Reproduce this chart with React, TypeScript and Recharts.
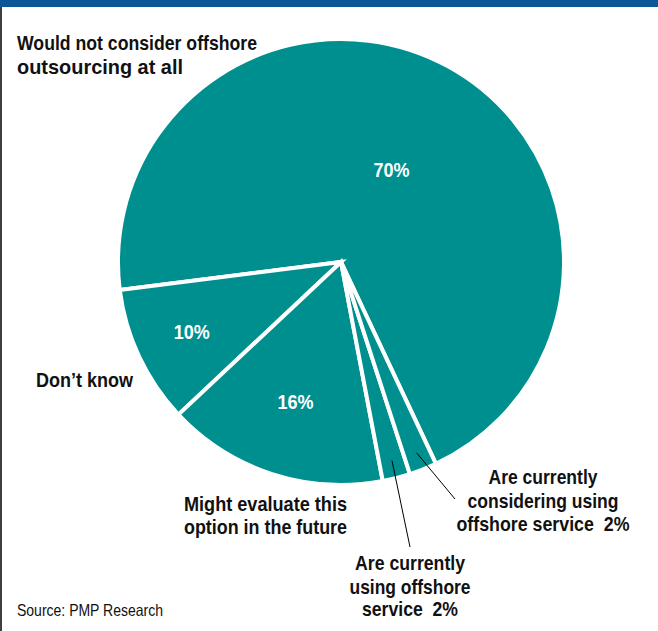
import { Pie, PieChart } from "recharts";

// survey answers, in clockwise order from the top-right of the pie
const categories = [
  "Would not consider offshore outsourcing at all",
  "Don’t know",
  "Might evaluate this option in the future",
  "Are currently using offshore service",
  "Are currently considering using offshore service",
];
const shares = [70, 10, 16, 2, 2];
const valueLabels = ["70%", "10%", "16%", "2%", "2%"];

const data = categories.map((name, i) => ({ name, value: shares[i], text: valueLabels[i] }));

const TEAL = "#008f8f";
// condensed bold look: Arial metrics squeezed to the measured line widths
const FONT = "'Liberation Sans', Arial, sans-serif";
const RAD = Math.PI / 180;

// how far in (fraction of outer radius) the value goes; null = leader line instead
const insideRadius = [0.47, 0.74, 0.66, null, null];
// leader line ends for the thin slices
const leaderEnd: Record<number, [number, number]> = {
  3: [410, 547],
  4: [455, 499],
};

type Line = { t: string; x: number; y: number; w: number; anchor?: "start" | "middle" };

const outsideLines: Line[] = [
  { t: "Would not consider offshore", x: 17, y: 50, w: 240 },
  { t: "outsourcing at all", x: 17, y: 74, w: 166 },
  { t: "Don’t know", x: 36, y: 387, w: 97 },
  { t: "Might evaluate this", x: 184, y: 511, w: 163 },
  { t: "option in the future", x: 184, y: 534, w: 163 },
  { t: "Are currently", x: 543, y: 484, w: 109, anchor: "middle" },
  { t: "considering using", x: 543, y: 508, w: 151, anchor: "middle" },
  { t: "offshore service\u00a0 2%", x: 543, y: 531, w: 173, anchor: "middle" },
  { t: "Are currently", x: 410, y: 570, w: 110, anchor: "middle" },
  { t: "using offshore", x: 410, y: 594, w: 121, anchor: "middle" },
  { t: "service\u00a0 2%", x: 410, y: 616, w: 96, anchor: "middle" },
];

function SliceLabel(props: any) {
  const { cx, cy, midAngle, outerRadius, index, payload } = props;
  const f = insideRadius[index];
  if (f != null) {
    const r = outerRadius * f;
    const x = cx + r * Math.cos(-midAngle * RAD);
    const y = cy + r * Math.sin(-midAngle * RAD);
    return (
      <text
        x={x}
        y={y}
        fill="#fff"
        fontFamily={FONT}
        fontWeight="bold"
        fontSize={20}
        textAnchor="middle"
        dominantBaseline="central"
        textLength={36}
        lengthAdjust="spacingAndGlyphs"
      >
        {payload.text}
      </text>
    );
  }
  const r = outerRadius * 0.92;
  const x = cx + r * Math.cos(-midAngle * RAD);
  const y = cy + r * Math.sin(-midAngle * RAD);
  const [ex, ey] = leaderEnd[index];
  return <line x1={x} y1={y} x2={ex} y2={ey} stroke="#000" strokeWidth={1} />;
}

export default function App() {
  return (
    <div style={{ position: "absolute", left: 0, top: 0, width: 658, height: 631, background: "#fff" }}>
      <PieChart width={658} height={631} margin={{ top: 0, right: 0, bottom: 0, left: 0 }}>
        <rect x={0} y={0} width={658} height={7} fill="#0b5797" />
        <line x1={1} y1={7} x2={1} y2={631} stroke="#000" strokeWidth={1.5} />
        <Pie
          data={data}
          dataKey="value"
          nameKey="name"
          cx={341}
          cy={262}
          outerRadius={223}
          startAngle={-64.8}
          endAngle={295.2}
          fill={TEAL}
          stroke="#fff"
          strokeWidth={4}
          label={SliceLabel}
          labelLine={false}
          isAnimationActive={false}
        />
        {outsideLines.map((l, i) => (
          <text
            key={i}
            x={l.x}
            y={l.y}
            textAnchor={l.anchor ?? "start"}
            fontFamily={FONT}
            fontWeight="bold"
            fontSize={21}
            fill="#111"
            textLength={l.w}
            lengthAdjust="spacingAndGlyphs"
          >
            {l.t}
          </text>
        ))}
        <text
          x={17}
          y={616}
          fontFamily={FONT}
          fontSize={16.5}
          fill="#111"
          textLength={146}
          lengthAdjust="spacingAndGlyphs"
        >
          Source: PMP Research
        </text>
      </PieChart>
    </div>
  );
}
